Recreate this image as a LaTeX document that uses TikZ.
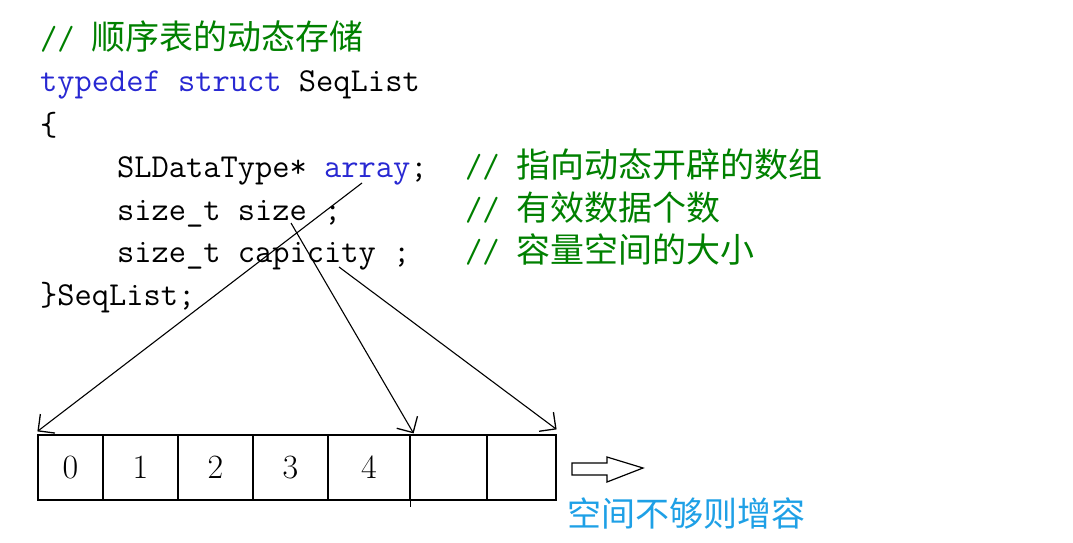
\documentclass[tikz,border=0pt]{standalone}
\usepackage{fontspec}
\newfontfamily\cjk{Noto Sans CJK SC}
\usetikzlibrary{arrows.meta,%
		positioning}
\definecolor{cmtgreen}{RGB}{0,128,0}
\definecolor{keyblue}{RGB}{40,40,210}
\definecolor{noteblue}{RGB}{30,160,230}
\newcommand\zh[1]{{\fontsize{34}{40}\selectfont\cjk #1}}
\tikzset{
	code/.style={anchor=base west, inner sep=0pt, font=\fontsize{33.5}{40}\selectfont\ttfamily},
	comment/.style={code, text=cmtgreen},
	cell/.style={draw, line width=1.2pt, minimum height=65pt, inner sep=0pt, font=\fontsize{34}{40}\selectfont},
	ptr/.style={line width=1.1pt, -{Straight Barb[length=12pt,width=24pt,line width=1.3pt]}}
}
\begin{document}
\begin{tikzpicture}[x=1pt,y=-1pt]
\useasboundingbox (0,0) rectangle (1073,543);
%codice
\node[comment] (title) at (40,50) {// \zh{顺序表的动态存储}};
\node[code] (head) at (40,92) {\textcolor{keyblue}{typedef struct} SeqList};
\node[code] (open) at (40,135) {\{};
\node[code] (fArray) at (117,177) {SLDataType* \textcolor{keyblue}{array};};
\node[comment] (cArray) at (465,177) {// \zh{指向动态开辟的数组}};
\node[code] (fSize) at (117,220) {size\_t size ;};
\node[comment] (cSize) at (465,220) {// \zh{有效数据个数}};
\node[code] (fCap) at (117,262) {size\_t capicity ;};
\node[comment] (cCap) at (465,262) {// \zh{容量空间的大小}};
\node[code] (close) at (40,305) {\}SeqList;};
%array
\foreach \xa/\xb/\lab [count=\i from 0] in {38/103/0,103/178/1,178/253/2,253/328/3,328/410/4,410/487/{},487/556/{}}
	\node[cell, minimum width={(\xb-\xa)*1pt}] (c\i) at ({(\xa+\xb)/2},467.5) {\lab};
\draw[line width=1.2pt] (c4.north east) -- ([yshift=-6pt]c4.south east);
%puntatori
\coordinate (arrayPtr) at (362,183);
\coordinate (sizePtr) at (291,223);
\coordinate (capPtr) at (339,267);
\draw[ptr] (arrayPtr) -- ([yshift=3pt]c0.north west);
\draw[ptr] (sizePtr) -- ([xshift=3pt,yshift=1pt]c4.north east);
\draw[ptr] (capPtr) -- ([yshift=5pt]c6.north east);
%freccia
\draw[line width=1.2pt] (572,463) -- (607,463) -- (607,457) -- (643,468) -- (607,482) -- (607,475) -- (572,475) -- cycle;
\node[anchor=west, inner sep=0pt, text=noteblue] (note) at (567,513) {\zh{空间不够则增容}};
\end{tikzpicture}
\end{document}
